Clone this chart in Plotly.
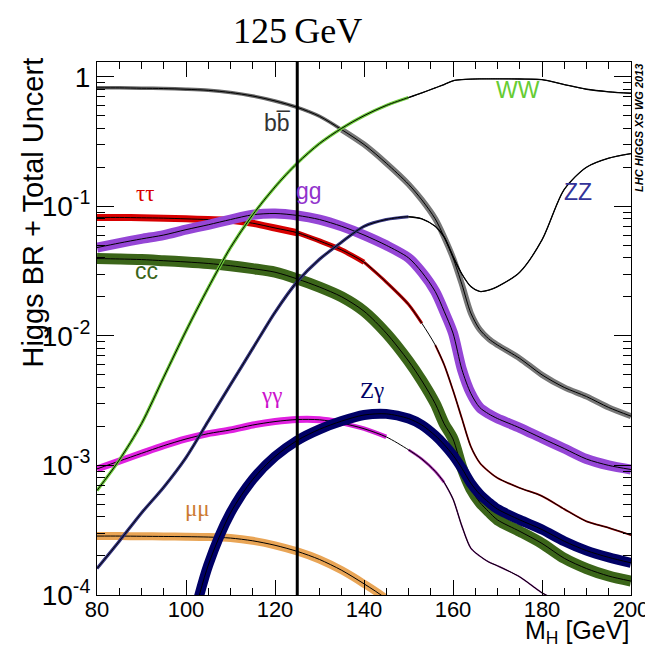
import plotly.graph_objects as go

# ---------------- data ----------------
mass = [80, 85, 90, 95, 100, 105, 110, 115, 120, 125, 130, 135, 140, 145, 150,
        153, 156, 158, 160, 162, 164, 166, 168, 170, 175, 180, 185, 190, 195, 200]

br_bb = [0.82, 0.82, 0.815, 0.81, 0.80, 0.785, 0.755, 0.71, 0.65, 0.58, 0.495, 0.39, 0.30, 0.215, 0.148,
         0.112, 0.080, 0.058, 0.040, 0.025, 0.0150, 0.0112, 0.0095, 0.0085, 0.0067, 0.0050, 0.0040, 0.0034, 0.0028, 0.0024]
br_ww = [6.4e-4, 1.1e-3, 2.1e-3, 4.8e-3, 0.0109, 0.0235, 0.048, 0.086, 0.141, 0.215, 0.305, 0.40, 0.50, 0.60, 0.69,
         0.75, 0.82, 0.87, 0.93, 0.95, 0.958, 0.962, 0.963, 0.963, 0.96, 0.95, 0.87, 0.80, 0.765, 0.745]
br_zz = [1.6e-4, 2.6e-4, 4.3e-4, 6.8e-4, 1.15e-3, 2.2e-3, 4.2e-3, 8.0e-3, 0.0152, 0.0262, 0.039, 0.053, 0.070, 0.079, 0.083,
         0.080, 0.070, 0.058, 0.041, 0.030, 0.024, 0.022, 0.0225, 0.024, 0.031, 0.055, 0.135, 0.20, 0.235, 0.255]
br_gg = [0.048, 0.052, 0.056, 0.060, 0.066, 0.072, 0.079, 0.086, 0.088, 0.085, 0.079, 0.070, 0.060, 0.050, 0.040,
         0.031, 0.022, 0.0155, 0.0105, 0.0055, 0.0036, 0.0028, 0.0025, 0.0023, 0.00195, 0.00162, 0.00135, 0.00112, 0.00100, 0.00093]
br_tautau = [0.082, 0.082, 0.0815, 0.081, 0.080, 0.079, 0.078, 0.074, 0.068, 0.0625, 0.054, 0.046, 0.037, 0.026, 0.0175,
             0.0125, 0.0085, 0.0060, 0.0038, 0.0023, 0.0014, 0.00105, 0.0009, 0.0008, 0.00067, 0.00058, 0.00046, 0.00037, 0.00033, 0.00029]
br_cc = [0.0395, 0.0392, 0.0388, 0.038, 0.0372, 0.0362, 0.0348, 0.033, 0.031, 0.0275, 0.0238, 0.020, 0.0155, 0.0105, 0.0064,
         0.0045, 0.0030, 0.0021, 0.0016, 0.00096, 0.00066, 0.00052, 0.00044, 0.00038, 0.00031, 0.00025, 0.000192, 0.000160, 0.000140, 0.000128]
br_gamgam = [9.4e-4, 1.08e-3, 1.24e-3, 1.42e-3, 1.6e-3, 1.76e-3, 1.88e-3, 2.05e-3, 2.18e-3, 2.26e-3, 2.25e-3, 2.12e-3, 1.92e-3, 1.66e-3, 1.32e-3,
             1.12e-3, 9.0e-4, 7.4e-4, 5.5e-4, 3.4e-4, 2.3e-4, 2.0e-4, 1.8e-4, 1.68e-4, 1.38e-4, 1.04e-4, 8.5e-5, 7.0e-5, 6.0e-5, 5.0e-5]
br_zgam = [None, None, None, None, 4e-5, 1.7e-4, 4.3e-4, 7.8e-4, 1.17e-3, 1.56e-3, 1.9e-3, 2.2e-3, 2.45e-3, 2.5e-3, 2.3e-3,
           2.05e-3, 1.7e-3, 1.45e-3, 1.2e-3, 9.5e-4, 7.3e-4, 6.0e-4, 5.2e-4, 4.6e-4, 3.8e-4, 3.2e-4, 2.6e-4, 2.2e-4, 1.95e-4, 1.77e-4]
br_mumu = [2.85e-4, 2.85e-4, 2.84e-4, 2.83e-4, 2.82e-4, 2.8e-4, 2.75e-4, 2.62e-4, 2.42e-4, 2.17e-4, 1.88e-4, 1.55e-4, 1.22e-4, 9.3e-5, 6.0e-5,
           None, None, None, None, None, None, None, None, None, None, None, None, None, None, None]

x_tick_vals = [80, 100, 120, 140, 160, 180, 200]
y_tick_vals = [1e-4, 1e-3, 1e-2, 1e-1, 1]
y_tick_text = ['10<sup>-4</sup>', '10<sup>-3</sup>', '10<sup>-2</sup>', '10<sup>-1</sup>', '1']
m_higgs = 125

# ---------------- styling ----------------
SANS = 'Liberation Sans, Arial, Helvetica, sans-serif'
SERIF = 'Liberation Serif, Times New Roman, serif'

fig = go.Figure()


def segment(xs, ys, lo, hi):
    px, py = [], []
    for x, y in zip(xs, ys):
        if lo <= x <= hi:
            px.append(x)
            py.append(y)
    return px, py


def add_channel(ys, segs, center=True):
    for lo, hi, color, width in segs:
        sx, sy = segment(mass, ys, lo, hi)
        fig.add_trace(go.Scatter(x=sx, y=sy, mode='lines', hoverinfo='skip',
                                 line=dict(color=color, width=width, shape='spline', smoothing=0.8)))
    if center:
        fig.add_trace(go.Scatter(x=mass, y=ys, mode='lines', hoverinfo='skip',
                                 line=dict(color='black', width=1, shape='spline', smoothing=0.8)))


add_channel(br_mumu, [(80, 200, '#e9a556', 8)])
add_channel(br_gamgam, [(80, 135, '#e020e0', 7), (135, 148, '#d020d4', 4.5),
                        (148, 158, '#a020a8', 2.5), (158, 200, '#80208a', 1.5)])
add_channel(br_cc, [(80, 200, '#3b6519', 11)])
add_channel(br_tautau, [(80, 125, '#d80000', 7), (125, 140, '#cc0000', 5),
                        (140, 155, '#b40000', 3), (155, 200, '#9a0000', 1.8)])
add_channel(br_gg, [(80, 200, '#9546d6', 10)])
add_channel(br_zgam, [(80, 200, '#000066', 10)])
add_channel(br_bb, [(80, 135, '#666666', 3.5), (135, 200, '#777777', 6)])
add_channel(br_zz, [(80, 150, '#34347e', 3.2), (150, 200, 'black', 1.3)])
add_channel(br_ww, [(80, 150, '#6ccc3a', 3.2), (150, 200, 'black', 1.3)])

# vertical line at 125 GeV
fig.add_shape(type='line', xref='x', yref='paper', x0=m_higgs, x1=m_higgs, y0=0, y1=1,
              line=dict(color='black', width=3), layer='above')

# curve labels
labels = [
    ('bb\u0305', 120.5, -0.36, '#333333'),
    ('\u03c4\u03c4', 90.9, -0.90, '#d80000'),
    ('gg', 127.7, -0.88, '#9233cc'),
    ('cc\u0305', 91.3, -1.50, '#3b6519'),
    ('\u03b3\u03b3', 119.1, -2.46, '#cc11cc'),
    ('Z\u03b3', 141.8, -2.42, '#000066'),
    ('\u03bc\u03bc', 102.6, -3.33, '#cc7a33'),
    ('WW', 174.6, -0.10, '#66cc33'),
    ('ZZ', 188.2, -0.89, '#333399'),
]
for txt, lx, ly, col in labels:
    fam = SERIF if any(c in txt for c in '\u03c4\u03b3\u03bc') else SANS
    fig.add_annotation(x=lx, y=ly, xref='x', yref='y', text=txt, showarrow=False,
                       font=dict(family=fam, size=23, color=col), xanchor='center', yanchor='middle')

# 125 GeV title
fig.add_annotation(x=m_higgs, y=1.058, xref='x', yref='paper', text='125\u2009GeV',
                   showarrow=False, font=dict(family=SERIF, size=36, color='black'),
                   xanchor='center', yanchor='middle')

# axis titles (ROOT style, aligned to end of axes)
fig.add_annotation(x=-0.12, y=1.012, xref='paper', yref='paper', text='Higgs BR + Total Uncert',
                   textangle=-90, showarrow=False, xanchor='center', yanchor='top',
                   font=dict(family=SANS, size=29, color='black'))
fig.add_annotation(x=1.0, y=-0.069, xref='paper', yref='paper', text='M<sub>H</sub> [GeV]',
                   showarrow=False, xanchor='right', yanchor='middle',
                   font=dict(family=SANS, size=25, color='black'))
fig.add_annotation(x=1.015, y=1.0, xref='paper', yref='paper', text='<b><i>LHC HIGGS XS WG 2013</i></b>',
                   textangle=-90, showarrow=False, xanchor='center', yanchor='top',
                   font=dict(family=SANS, size=11, color='black'))

minor_x = [v for v in range(80, 201, 5) if v % 20 != 0]
minor_y = [m * 10 ** e for e in range(-4, 0) for m in range(2, 10)]

fig.update_layout(
    width=653, height=648,
    margin=dict(l=89, r=21, t=54, b=61),
    paper_bgcolor='white', plot_bgcolor='white',
    showlegend=False,
    xaxis=dict(range=[80, 200], tickmode='array', tickvals=x_tick_vals,
               ticks='inside', ticklen=15, tickwidth=1, tickcolor='black',
               showline=True, linecolor='black', linewidth=1.2, mirror='allticks',
               showgrid=False, zeroline=False, ticklabelstandoff=-6,
               tickfont=dict(family=SANS, size=22, color='black'),
               minor=dict(tickmode='array', tickvals=minor_x, ticks='inside', ticklen=7,
                          tickcolor='black', tickwidth=1, showgrid=False)),
    yaxis=dict(type='log', range=[-4, 0.1135], tickmode='array', tickvals=y_tick_vals, ticktext=y_tick_text,
               ticks='inside', ticklen=17, tickwidth=1, tickcolor='black',
               showline=True, linecolor='black', linewidth=1.2, mirror='allticks',
               showgrid=False, zeroline=False,
               tickfont=dict(family=SANS, size=28, color='black'),
               minor=dict(tickmode='array', tickvals=minor_y, ticks='inside', ticklen=8,
                          tickcolor='black', tickwidth=1, showgrid=False)),
)

fig.write_html('out.html')
